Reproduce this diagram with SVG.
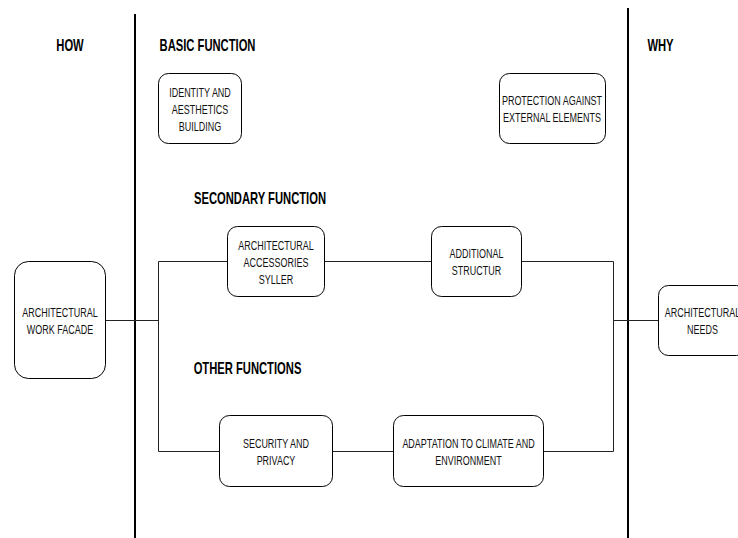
<svg xmlns="http://www.w3.org/2000/svg" width="738" height="538" viewBox="0 0 738 538">
<style>
.bg{fill:#fff}
.lane{stroke:#000;stroke-width:2;fill:none}
.box{fill:#fff;stroke:#000;stroke-width:1}
.conn{fill:none;stroke:#222;stroke-width:1}
text{font-family:"Liberation Sans",Arial,sans-serif;fill:#111}
.h{font-size:17px;font-weight:bold;text-anchor:middle;fill:#000}
.t{font-size:13.5px;text-anchor:middle}
</style>
<rect class="bg" x="0" y="0" width="738" height="538"/>
<g id="lanes">
<path class="lane" d="M135 14 V538"/>
<path class="lane" d="M628 8 V538"/>
</g>
<g id="headings">
<text class="h" transform="translate(70 50.5) scale(0.66 1)">HOW</text>
<text class="h" transform="translate(207.5 50.5) scale(0.66 1)">BASIC FUNCTION</text>
<text class="h" transform="translate(660.5 50.5) scale(0.66 1)">WHY</text>
<text class="h" transform="translate(260 203.5) scale(0.66 1)">SECONDARY FUNCTION</text>
<text class="h" transform="translate(247.5 373.5) scale(0.66 1)">OTHER FUNCTIONS</text>
</g>
<g id="connectors">
<path class="conn" d="M106 320.5 H158.5"/>
<path class="conn" d="M158.5 261.5 V451.5"/>
<path class="conn" d="M158.5 261.5 H227"/>
<path class="conn" d="M325 261.5 H431"/>
<path class="conn" d="M522 261.5 H613.5"/>
<path class="conn" d="M613.5 261.5 V451.5"/>
<path class="conn" d="M613.5 320.5 H658"/>
<path class="conn" d="M158.5 451.5 H219"/>
<path class="conn" d="M333 451.5 H393"/>
<path class="conn" d="M543 451.5 H613.5"/>
</g>
<g id="identity">
<rect class="box" x="158.5" y="73.5" width="83" height="70" rx="10"/>
<text class="t" transform="translate(200 96.5) scale(0.665 1)">IDENTITY AND</text>
<text class="t" transform="translate(200 113.5) scale(0.665 1)">AESTHETICS</text>
<text class="t" transform="translate(200 130.5) scale(0.665 1)">BUILDING</text>
</g>
<g id="protection">
<rect class="box" x="499.5" y="73.5" width="106" height="70" rx="10"/>
<text class="t" transform="translate(552 104.5) scale(0.665 1)">PROTECTION AGAINST</text>
<text class="t" transform="translate(552 121.5) scale(0.665 1)">EXTERNAL ELEMENTS</text>
</g>
<g id="facade">
<rect class="box" x="14.5" y="261.5" width="91" height="117" rx="14"/>
<text class="t" transform="translate(60 316.5) scale(0.665 1)">ARCHITECTURAL</text>
<text class="t" transform="translate(60 333.5) scale(0.665 1)">WORK FACADE</text>
</g>
<g id="accessories">
<rect class="box" x="227.5" y="226.5" width="97" height="70" rx="10"/>
<text class="t" transform="translate(276 250) scale(0.665 1)">ARCHITECTURAL</text>
<text class="t" transform="translate(276 267) scale(0.665 1)">ACCESSORIES</text>
<text class="t" transform="translate(276 284) scale(0.665 1)">SYLLER</text>
</g>
<g id="additional">
<rect class="box" x="431.5" y="226.5" width="90" height="70" rx="10"/>
<text class="t" transform="translate(476.5 257.5) scale(0.665 1)">ADDITIONAL</text>
<text class="t" transform="translate(476.5 274.5) scale(0.665 1)">STRUCTUR</text>
</g>
<g id="needs">
<rect class="box" x="658.5" y="285.5" width="88" height="70" rx="10"/>
<text class="t" transform="translate(702.5 316.5) scale(0.665 1)">ARCHITECTURAL</text>
<text class="t" transform="translate(702.5 333.5) scale(0.665 1)">NEEDS</text>
</g>
<g id="security">
<rect class="box" x="219.5" y="415.5" width="113" height="71" rx="10"/>
<text class="t" transform="translate(276 447.5) scale(0.665 1)">SECURITY AND</text>
<text class="t" transform="translate(276 464.5) scale(0.665 1)">PRIVACY</text>
</g>
<g id="adaptation">
<rect class="box" x="393.5" y="415.5" width="150" height="71" rx="10"/>
<text class="t" transform="translate(468.5 447.5) scale(0.665 1)">ADAPTATION TO CLIMATE AND</text>
<text class="t" transform="translate(468.5 464.5) scale(0.665 1)">ENVIRONMENT</text>
</g>
</svg>
